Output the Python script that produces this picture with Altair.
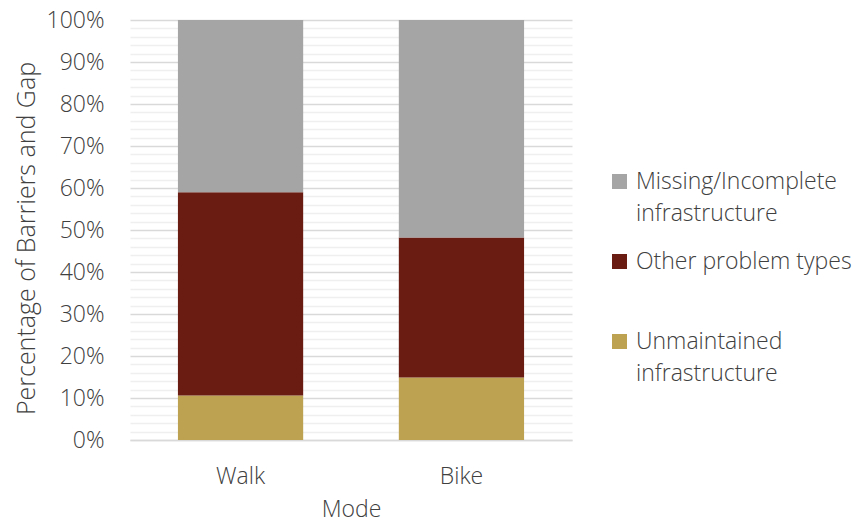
import altair as alt
import pandas as pd

modes = ["Walk", "Bike"]
categories = ["Unmaintained infrastructure", "Other problem types", "Missing/Incomplete infrastructure"]
colors = ["#bda251", "#6b1c12", "#a5a5a5"]
walk_values = [0.106, 0.484, 0.410]
bike_values = [0.149, 0.333, 0.518]

rows = []
for m, vals in zip(modes, [walk_values, bike_values]):
    for i, (c, v) in enumerate(zip(categories, vals)):
        rows.append({"Mode": m, "Category": c, "Value": v, "order": i})
df = pd.DataFrame(rows)

grid_values = [i / 50 for i in range(51)]
font = "Open Sans"
fs = 23
txt = "#404040"

label_expr = ("datum.label == 'Missing/Incomplete infrastructure' ? ['Missing/Incomplete', 'infrastructure'] : "
              "datum.label == 'Unmaintained infrastructure' ? ['Unmaintained', 'infrastructure'] : datum.label")

major = "round(datum.value*100) % 10 === 0"

chart = alt.Chart(df).mark_bar().encode(
    x=alt.X("Mode:N", sort=modes,
            scale=alt.Scale(paddingInner=0.433, paddingOuter=0.217),
            axis=alt.Axis(title="Mode", labelAngle=0, labelFontSize=fs, titleFontSize=fs,
                          labelFont=font, titleFont=font, labelColor=txt, titleColor=txt,
                          labelFontWeight=300, titleFontWeight=300, ticks=False,
                          domainColor="#d9d9d9", domainWidth=1.5,
                          labelPadding=25, titlePadding=10)),
    y=alt.Y("Value:Q", stack="zero",
            scale=alt.Scale(domain=[0, 1], nice=False),
            axis=alt.Axis(title="Percentage of Barriers and Gap", values=grid_values,
                          labelExpr=major + " ? format(datum.value, '.0%') : ''",
                          labelFontSize=fs, titleFontSize=25, labelFont=font, titleFont=font,
                          labelColor=txt, titleColor=txt, labelFontWeight=300, titleFontWeight=300,
                          ticks=False, domain=False, labelPadding=26,
                          titleX=-96, titleY=218, titleAngle=270, titleAlign="center",
                          titleBaseline="alphabetic",
                          gridColor={"condition": {"test": major, "value": "#d9d9d9"},
                                     "value": "#efefef"},
                          gridWidth=1.5)),
    color=alt.Color("Category:N", sort=list(reversed(categories)),
                    scale=alt.Scale(domain=list(reversed(categories)), range=list(reversed(colors))),
                    legend=alt.Legend(title=None, orient="none", legendX=478, legendY=150,
                                      labelFontSize=fs, labelFont=font, labelColor=txt, labelFontWeight=300,
                                      symbolType="square", symbolSize=225, symbolStrokeWidth=0,
                                      labelExpr=label_expr, labelLimit=400,
                                      gridAlign="all", rowPadding=24, labelOffset=5)),
    order=alt.Order("order:Q"),
).properties(
    width=442, height=420,
    autosize=alt.AutoSizeParams(type="none"),
    padding={"left": 122, "top": 12, "right": 284, "bottom": 83},
).configure(style={"guide-label": {"lineHeight": 32}}).configure_view(stroke=None)

chart.save("out.html", embed_options={"renderer": "svg", "actions": False})
